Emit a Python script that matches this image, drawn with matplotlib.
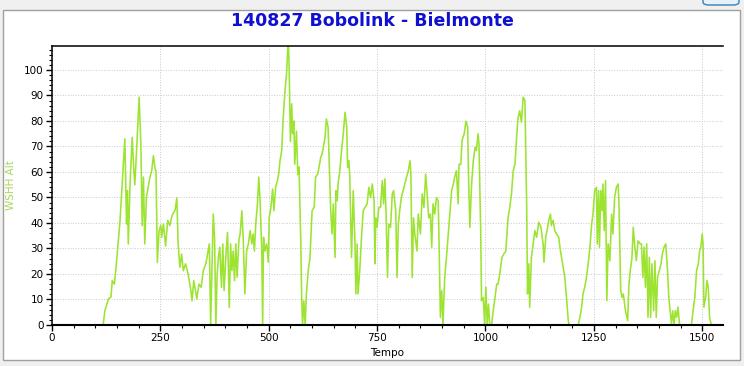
import matplotlib
matplotlib.use('Agg')
import matplotlib.pyplot as plt
from matplotlib.patches import Rectangle, FancyBboxPatch
from matplotlib.ticker import MultipleLocator

title = '140827 Bobolink - Bielmonte'
x_label = 'Tempo'
y_label = 'WSHH Alt'

# altitude trace (time, value)
tempo = [118, 122, 130, 136, 139, 144, 149, 157, 161, 168, 172, 174, 176, 180, 185, 188, 191, 195,
         198, 201, 205, 208, 211, 214, 218, 222, 226, 230, 234, 238, 240, 243, 247, 251, 253, 257,
         262, 267, 272, 277, 284, 288, 291, 295, 299, 303, 308, 314, 320, 323, 327, 331, 334, 339,
         344, 349, 355, 360, 363, 366, 372, 375, 378, 381, 384, 387, 391, 394, 397, 401, 405, 409,
         412, 415, 418, 421, 424, 427, 431, 434, 438, 441, 445, 449, 453, 457, 461, 464, 467, 470,
         474, 477, 480, 484, 486, 488, 491, 495, 499, 501, 505, 509, 512, 516, 520, 523, 526, 530,
         533, 537, 541, 545, 547, 550, 553, 555, 558, 560, 564, 567, 570, 574, 576, 578, 581, 584,
         587, 591, 595, 600, 605, 608, 613, 616, 620, 623, 626, 630, 633, 637, 640, 643, 646, 649,
         653, 655, 658, 660, 664, 668, 672, 676, 680, 682, 685, 687, 691, 695, 699, 701, 704, 706,
         710, 714, 718, 722, 727, 731, 735, 739, 743, 745, 747, 750, 754, 758, 762, 765, 768, 771,
         774, 777, 781, 785, 788, 793, 796, 799, 803, 806, 810, 814, 818, 822, 826, 828, 831, 834,
         837, 842, 845, 850, 854, 858, 862, 866, 869, 873, 876, 879, 883, 887, 891, 893, 896, 899,
         902, 906, 910, 916, 922, 926, 929, 933, 937, 939, 943, 946, 951, 955, 959, 961, 964, 968,
         972, 976, 979, 983, 985, 989, 991, 995, 998, 1001, 1004, 1007, 1010, 1014, 1018, 1022,
         1026, 1029, 1033, 1038, 1042, 1047, 1052, 1056, 1060, 1064, 1068, 1072, 1075, 1079, 1083,
         1087, 1091, 1095, 1097, 1100, 1102, 1106, 1110, 1114, 1118, 1123, 1128, 1133, 1135, 1139,
         1142, 1146, 1150, 1152, 1156, 1160, 1164, 1169, 1173, 1178, 1183, 1187, 1191, 1193, 1214,
         1218, 1222, 1225, 1229, 1233, 1237, 1241, 1245, 1248, 1252, 1256, 1258, 1261, 1263, 1266,
         1269, 1271, 1274, 1277, 1280, 1283, 1287, 1291, 1294, 1298, 1302, 1306, 1308, 1312, 1315,
         1318, 1323, 1328, 1331, 1334, 1338, 1341, 1344, 1348, 1352, 1357, 1360, 1363, 1366, 1369,
         1372, 1375, 1378, 1381, 1384, 1388, 1391, 1394, 1397, 1401, 1405, 1408, 1412, 1416, 1420,
         1423, 1426, 1429, 1432, 1435, 1438, 1441, 1444, 1448, 1475, 1479, 1483, 1487, 1491, 1494,
         1497, 1500, 1502, 1504, 1508, 1511, 1514, 1517, 1521]
alt = [0, 5.6, 10.2, 11, 17.4, 16, 25, 41, 52.7, 73, 39.6, 52.7, 31.8, 55, 73.6, 63, 55, 68,
       78.8, 89.3, 71, 39, 58, 31.8, 50.3, 54, 58, 60.5, 66.4, 61, 60.5, 24.5, 37, 39, 34.4, 39.6,
       31, 41, 39, 43, 45, 49.8, 31.8, 22.6, 27.8, 21.3, 24, 20, 14, 9.5, 17.4, 13.5, 10.2, 16,
       14.8, 21.3, 24, 29, 31.8, 0.4, 43.5, 34.4, 0, 20, 26.5, 30.5, 14.8, 31.8, 13.5, 26.5, 36.3, 6.9,
       31.8, 21.3, 29, 17.4, 31.8, 18.7, 33, 35.7, 44.8, 34.4, 12.2, 29, 31.8, 37, 31.8, 35.7, 29, 39.6,
       47.5, 58, 48.8, 29, 0, 34.4, 29, 31.8, 24.6, 42, 46, 53.3, 44.8, 54, 56.6, 59.2, 64.4, 68.4,
       80, 90.6, 98.4, 112, 102, 72, 86.7, 75, 80, 63, 76, 59, 62, 31.8, 10.8, 0, 9.5, 0,
       12.2, 21.3, 26, 44.8, 46.3, 58, 59.2, 61.8, 65.8, 67, 69.7, 73.6, 80.8, 77.5, 60.5, 44.8, 35.7, 47.5,
       26.5, 52.7, 48.7, 55.3, 60.5, 68.4, 75, 83.4, 77.5, 61.8, 64.4, 58, 26.5, 52.7, 31.8, 12.2, 31.8, 12.2,
       21.3, 34.4, 44.8, 46.1, 47.5, 54, 50, 55.3, 48.7, 24, 42, 38.3, 46.1, 46.1, 56.6, 47.5, 57.3, 42,
       18.7, 39.6, 38.3, 51.4, 52.7, 44.8, 18.7, 39.6, 46.1, 50, 52.7, 55.3, 58, 60.5, 64.4, 59.2, 18.7, 42,
       35.7, 29, 43.5, 35.7, 51.4, 46.1, 59.2, 50, 42, 43.5, 30.5, 47.5, 43.5, 50, 48.8, 31.8, 3, 13.5,
       0.4, 18.7, 26.5, 39.6, 52.7, 55.3, 58, 60.5, 47.5, 63, 63, 72.3, 75, 79.9, 77.5, 58, 38.3, 55.3,
       64.4, 69.7, 68.4, 75, 71, 37, 9.5, 10.8, 0.4, 14.8, 0, 8.2, 0, 0, 5.6, 10.8,
       16, 16, 20, 26.5, 27.8, 29, 42, 46.1, 51.4, 60.5, 63, 74, 81, 84, 79.5,
       89.3, 88, 47.5, 12.2, 24, 7, 26.5, 31.8, 37, 34.4, 40.3, 38.3, 31.8, 24.6, 34.4,
       37, 41, 43.5, 39, 41, 37, 35.7, 34.4, 29, 24, 18.7, 10.8, 1.7, 0, 0,
       3, 7, 12.2, 14.8, 18.7, 24, 30.5, 39.6, 43.5, 52.7, 54, 31.8, 52.7, 30.5, 52.7,
       44.8, 55.3, 37, 56.6, 9.5, 31.8, 25.2, 43.5, 35.7, 50, 54, 55.3, 47.5, 13.5, 10.8,
       12.2, 5.6, 1.7, 16, 21.3, 26.5, 38.3, 31.8, 25.2, 33, 31.8, 31.8, 18.7, 30.5, 14.8,
       31.8, 3, 26.5, 3, 24, 5.6, 25.2, 3, 18.7, 21.3, 24, 27.8, 30.5, 31.8, 21.3,
       10.8, 5.6, 0.4, 5.6, 0, 5.6, 3, 7, 0, 0, 5.6, 10.8, 21.3, 24, 29,
       30.5, 35.7, 31.8, 7, 10.8, 17.4, 14.8, 3, 0]

line_col = '#9de332'

fig = plt.figure(figsize=(7.44, 3.66), dpi=100, facecolor='#f0f0f0')

# white canvas with grey frame, like the Qt widget
fig.patches.append(Rectangle((3/744, 6/366), 737/744, 350/366, transform=fig.transFigure,
                             facecolor='white', edgecolor='#a0a0a0', linewidth=1.0, zorder=-5))
fig.patches.append(FancyBboxPatch((703/744, 1 - 5/366), 36/744, 10/366, transform=fig.transFigure,
                                  boxstyle='round,pad=0,rounding_size=0.008',
                                  facecolor='#e5f1fb', edgecolor='#3c7fb1', linewidth=1.0, zorder=-5))

ax = fig.add_axes([52/744, 41/366, 671/744, 279/366], zorder=1)
ax.set_facecolor('white')
ax.plot(tempo, alt, color=line_col, lw=1.15, zorder=2)

ax.set_xlim(0, 1548)
ax.set_ylim(0, 109.4)
ax.xaxis.set_major_locator(MultipleLocator(250))
ax.xaxis.set_minor_locator(MultipleLocator(50))
ax.yaxis.set_major_locator(MultipleLocator(10))
ax.yaxis.set_minor_locator(MultipleLocator(2))
ax.tick_params(which='major', length=4, width=1, direction='out', labelsize=7.5, pad=2)
ax.tick_params(which='minor', length=2.5, width=0.8, direction='out')
ax.grid(True, which='major', linestyle=':', color='#c8c8c8', linewidth=0.7)
ax.set_axisbelow(True)

for s in ['left', 'top']:
    ax.spines[s].set_linewidth(1.1)
ax.spines['bottom'].set_linewidth(1.5)
ax.spines['right'].set_visible(False)

ax.set_xlabel(x_label, fontsize=7.5, labelpad=3)
ax.set_ylabel(y_label, fontsize=7.5, color='#a8d85a', labelpad=6)

fig.text(372/744, 1 - 21/366, title, ha='center', va='center', fontsize=12.5,
         fontweight='bold', color='#1010d0')

fig.savefig('out.png', dpi=100, facecolor=fig.get_facecolor())
plt.close(fig)
